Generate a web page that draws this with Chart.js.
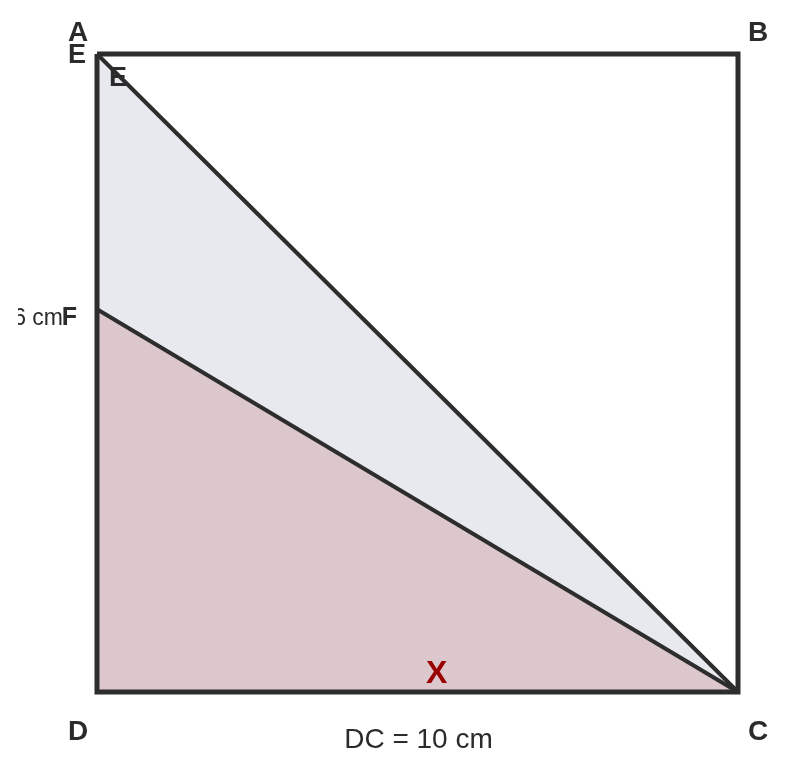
<!DOCTYPE html>
<html>
<head>
<meta charset="utf-8">
<script src="https://cdn.jsdelivr.net/npm/chart.js@4/dist/chart.umd.min.js"></script>
<style>
    html, body { margin: 0; padding: 0; background: #ffffff; }
    #wrap { width: 787px; height: 766px; }
</style>
</head>
<body>
<div id="wrap"><canvas id="geo" width="787" height="766"></canvas></div>
<script>
// Points of the figure, in cm (square of side 10)
const pointA = [0, 10];
const pointB = [10, 10];
const pointC = [10, 0];
const pointD = [0, 0];
const pointE = [0, 10];
const pointF = [0, 6];

// Text shown on the figure
const pointNames = ['A', 'B', 'C', 'D', 'E', 'E', 'F'];
const sideLabel = 'DC = 10 cm';
const heightLabel = '6 cm';
const regionLabel = 'X';
const regionLabelAt = [5.3, 0];
const sideLabelAt = [5, 0];

const lineColor = '#2d2d2d';
const textColor = '#2b2b2b';

const toXY = p => ({ x: p[0], y: p[1] });

// Draws the letters and measures next to the points
const labelPlugin = {
    id: 'figureLabels',
    afterDatasetsDraw(chart) {
        const ctx = chart.ctx;
        const sx = chart.scales.x;
        const sy = chart.scales.y;

        function put(text, at, dx, dy, font, color, align) {
            ctx.font = font;
            ctx.fillStyle = color;
            ctx.textAlign = align || 'center';
            ctx.textBaseline = 'alphabetic';
            ctx.fillText(text, sx.getPixelForValue(at[0]) + dx, sy.getPixelForValue(at[1]) + dy);
        }

        const bold = 'bold 28px "Liberation Sans", Arial, sans-serif';

        ctx.save();
        put(pointNames[0], pointA, -19, -13, bold, textColor);
        put(pointNames[4], pointE, -20, 9, 'bold 27px "Liberation Sans", Arial, sans-serif', textColor);
        put(pointNames[5], pointE, 21, 32, 'bold 27px "Liberation Sans", Arial, sans-serif', textColor);
        put(pointNames[1], pointB, 20, -13, bold, textColor);
        put(pointNames[3], pointD, -19, 48, bold, textColor);
        put(pointNames[2], pointC, 20, 48, bold, textColor);
        put(pointNames[6], pointF, -20, 16, 'bold 25px "Liberation Sans", Arial, sans-serif', textColor, 'right');
        put(sideLabel, sideLabelAt, 1, 56, '28px "Liberation Sans", Arial, sans-serif', textColor);
        put(regionLabel, regionLabelAt, 0, -9, 'bold 32px "Liberation Sans", Arial, sans-serif', '#990000');

        // the measure on AD runs off the left edge in the original
        ctx.beginPath();
        ctx.rect(18, 0, chart.width, chart.height);
        ctx.clip();
        put(heightLabel, pointF, -34, 16, '23px "Liberation Sans", Arial, sans-serif', textColor, 'right');
        ctx.restore();
    }
};

const ctx = document.getElementById('geo').getContext('2d');

// datasets with a lower order are drawn on top
new Chart(ctx, {
    type: 'scatter',
    data: {
        datasets: [
            {
                // square ABCD
                data: [pointA, pointB, pointC, pointD, pointA].map(toXY),
                order: 1,
                showLine: true,
                borderColor: lineColor,
                borderWidth: 5,
                borderJoinStyle: 'miter',
                fill: false,
                pointRadius: 0,
                clip: false
            },
            {
                // segment E-C
                data: [pointE, pointC].map(toXY),
                order: 2,
                showLine: true,
                borderColor: lineColor,
                borderWidth: 4,
                fill: false,
                pointRadius: 0,
                clip: false
            },
            {
                // segment F-C
                data: [pointF, pointC].map(toXY),
                order: 3,
                showLine: true,
                borderColor: lineColor,
                borderWidth: 4,
                fill: false,
                pointRadius: 0,
                clip: false
            },
            {
                // triangle F-D-C (pink)
                data: [pointF, pointC].map(toXY),
                order: 4,
                showLine: true,
                borderWidth: 0,
                borderColor: 'rgba(0,0,0,0)',
                backgroundColor: '#dcc8cc',
                fill: 'origin',
                pointRadius: 0,
                clip: false
            },
            {
                // triangle E-D-C (light grey)
                data: [pointE, pointC].map(toXY),
                order: 5,
                showLine: true,
                borderWidth: 0,
                borderColor: 'rgba(0,0,0,0)',
                backgroundColor: '#e7e9ee',
                fill: 'origin',
                pointRadius: 0,
                clip: false
            }
        ]
    },
    options: {
        responsive: false,
        animation: false,
        devicePixelRatio: 1,
        layout: {
            padding: { left: 97, right: 49, top: 54, bottom: 74 }
        },
        plugins: {
            legend: { display: false },
            tooltip: { enabled: false }
        },
        scales: {
            x: { type: 'linear', min: 0, max: 10, display: false },
            y: { type: 'linear', min: 0, max: 10, display: false }
        }
    },
    plugins: [labelPlugin]
});
</script>
</body>
</html>
